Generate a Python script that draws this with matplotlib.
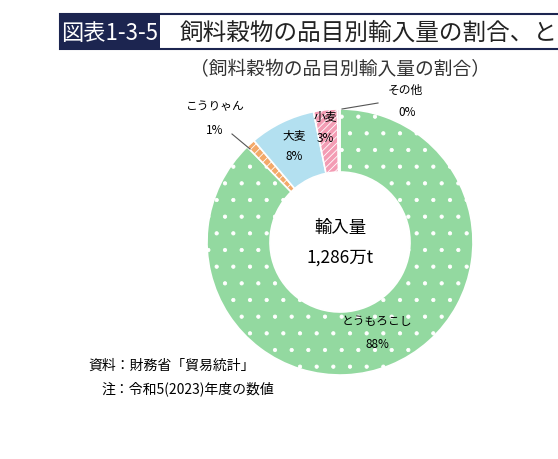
import matplotlib.pyplot as plt
from matplotlib.patches import Rectangle

plt.rcParams['font.family'] = ['Noto Sans CJK JP', 'DejaVu Sans']
plt.rcParams['hatch.linewidth'] = 0.6

labels = ["とうもろこし", "こうりゃん", "大麦", "小麦", "その他"]
shares = [87.7, 1.1, 8.0, 2.9, 0.3]
pct_text = ["88%", "1%", "8%", "3%", "0%"]
colors = ["#93d9a0", "#f3a96a", "#b3e0f0", "#f39cb4", "#e8e8e8"]
hatches = [".", "////", None, "/////", None]

W, H = 558, 460
fig = plt.figure(figsize=(W / 100, H / 100), dpi=100)
ax = fig.add_axes([0, 0, 1, 1])


def Y(y):
    return H - y


cx, cy, R = 340, 243, 133
wedges, _ = ax.pie(shares, colors=colors, startangle=90, counterclock=False,
                   center=(cx, Y(cy)), radius=R, frame=True,
                   wedgeprops=dict(width=R - 70, edgecolor="white", linewidth=1.2))
for w, h in zip(wedges, hatches):
    if h:
        w.set_hatch(h)
ax.set_xlim(0, W)
ax.set_ylim(0, H)
ax.set_aspect("equal")
ax.axis("off")

# title
ax.add_patch(Rectangle((60, Y(50)), 505, 35, facecolor="white",
                       edgecolor="#1c2550", linewidth=1.5))
ax.add_patch(Rectangle((60, Y(50)), 100, 35, facecolor="#1c2550"))
ax.text(110, Y(33), "図表1-3-5", color="white", fontsize=16,
        ha="center", va="center")
ax.text(180, Y(33), "飼料穀物の品目別輸入量の割合、と", color="#222222",
        fontsize=17, ha="left", va="center")
ax.text(340, Y(70), "（飼料穀物の品目別輸入量の割合）", fontsize=13.5,
        ha="center", va="center", color="#333333")

fs = 8.5
ax.text(215, Y(107), labels[1], fontsize=fs, ha="center", va="center")
ax.text(215, Y(130), pct_text[1], fontsize=fs, ha="center", va="center")
ax.plot([232, 250], [Y(135), Y(150)], color="#555555", linewidth=0.8)
ax.text(405, Y(90), labels[4], fontsize=fs, ha="center", va="center")
ax.text(407, Y(112), pct_text[4], fontsize=fs, ha="center", va="center")
ax.plot([342, 378], [Y(110), Y(104)], color="#555555", linewidth=0.8)
ax.text(294, Y(136), labels[2], fontsize=fs, ha="center", va="center")
ax.text(294, Y(157), pct_text[2], fontsize=fs, ha="center", va="center")
ax.text(325, Y(117), labels[3], fontsize=fs, ha="center", va="center")
ax.text(325, Y(138), pct_text[3], fontsize=fs, ha="center", va="center")
ax.text(377, Y(322), labels[0], fontsize=fs, ha="center", va="center")
ax.text(377, Y(345), pct_text[0], fontsize=fs, ha="center", va="center")

ax.text(cx, Y(228), "輸入量", fontsize=12.5, ha="center", va="center")
ax.text(cx, Y(258), "1,286万t", fontsize=12.5, ha="center", va="center")

ax.text(88, Y(366), "資料：財務省「貿易統計」", fontsize=10, ha="left", va="center")
ax.text(101, Y(389), "注：令和5(2023)年度の数値", fontsize=10, ha="left", va="center")

fig.savefig("out.png", dpi=100)
